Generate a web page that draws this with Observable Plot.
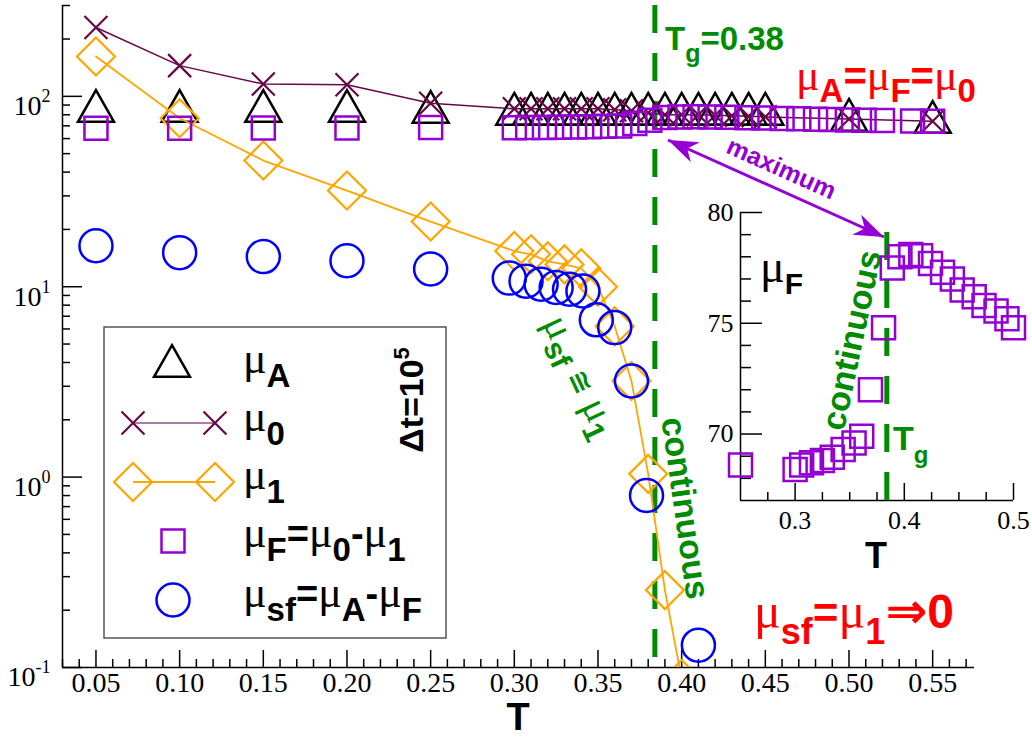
<!DOCTYPE html>
<html><head><meta charset="utf-8">
<script src="https://cdn.jsdelivr.net/npm/d3@7"></script>
<script src="https://cdn.jsdelivr.net/npm/@observablehq/plot@0.6"></script>
<style>
html,body{margin:0;padding:0;background:#fff;overflow:hidden}
#wrap{position:relative;width:1032px;height:739px}
#inset{position:absolute;left:680px;top:190px}
svg{overflow:visible}
</style></head><body><div id="wrap"><div id="main"></div><div id="inset"></div></div>
<script>
// ---------------- data ----------------
const T_A  = [0.05,0.10,0.15,0.20,0.25,0.30,0.31,0.32,0.33,0.34,0.35,0.36,0.37,0.38,0.39,0.40,0.41,0.42,0.43,0.44,0.45,0.50,0.55];
const muA  = [89,89,89,89,88,86,86,86,86,86,86,86,86,86,86,86,86,86,86,86,86,80,78];
const T_0  = [0.05,0.10,0.15,0.20,0.25,0.30,0.31,0.32,0.33,0.34,0.35,0.36,0.37,0.38,0.39,0.40,0.41,0.42,0.43,0.44,0.45,0.50,0.55];
const mu0  = [230,145,116,115,92,86,86,86,86,86,86,85,84,82,80,80,80,79.5,79,78.5,78,76,74];
const T_1  = [0.05,0.10,0.15,0.20,0.25,0.30,0.31,0.32,0.33,0.34,0.35,0.36,0.37,0.38,0.39,0.40];
const mu1  = [162,76.7,46,32,22,15.4,14.8,13.6,13.1,12.5,10.0,6.2,3.2,1.04,0.255,0.087];
const T_F  = [0.05,0.10,0.15,0.20,0.25,0.30,0.308,0.318,0.327,0.336,0.345,0.354,0.363,0.372,0.381,0.39,0.399,0.408,0.417,0.427,0.439,0.449,0.46,0.47,0.48,0.489,0.499,0.509,0.52,0.538,0.55];
const muF  = [68,68,68.2,68.2,68.6,68.4,68.6,68.7,68.8,68.95,69.3,69.6,69.9,72.0,74.8,77.5,78.0,78.1,78.0,77.7,77.3,77.0,76.5,76.2,75.8,75.5,75.2,74.8,74.6,74.3,74.0];
const T_sf = [0.05,0.10,0.15,0.20,0.25,0.297,0.307,0.316,0.325,0.333,0.341,0.349,0.36,0.37,0.379,0.41];
const musf = [16.4,15.1,14.4,13.7,12.4,11.1,10.7,10.3,9.9,9.7,9.5,6.7,6.1,3.2,0.80,0.131];
// inset: mu_F vs T
const T_in  = [0.25,0.30,0.306,0.315,0.325,0.334,0.344,0.354,0.361,0.369,0.381,0.389,0.396,0.406,0.415,0.424,0.435,0.444,0.453,0.464,0.473,0.484,0.494,0.50];
const muF_in= [68.6,68.4,68.6,68.7,68.8,68.95,69.3,69.6,69.9,72.0,74.8,77.5,78.0,78.1,78.05,77.7,77.3,77.0,76.5,76.2,75.8,75.55,75.2,74.8];
const Tg = 0.384;
// ticks
const xMajor = [0.05,0.10,0.15,0.20,0.25,0.30,0.35,0.40,0.45,0.50,0.55];
const yMajor = [0.1,1,10,100];
const inXMajor = [0.3,0.4,0.5];
const inYMajor = [70,75,80];

// ---------------- styles ----------------
const C = {A:"#000000", M0:"#670748", M1:"#FFA500", F:"#9400D3", SF:"#0000FF", G:"#008B00", R:"#FF0000"};
const rOf = s => Math.sqrt(s/Math.PI);
const symTri = {draw(c,s){const r=rOf(s),h=r*0.88;c.moveTo(0,-h);c.lineTo(r,h);c.lineTo(-r,h);c.closePath();}};
const symSq  = {draw(c,s){const r=rOf(s);c.moveTo(-r,-r);c.lineTo(r,-r);c.lineTo(r,r);c.lineTo(-r,r);c.closePath();}};
const symDia = {draw(c,s){const r=rOf(s);c.moveTo(0,-r);c.lineTo(r,0);c.lineTo(0,r);c.lineTo(-r,0);c.closePath();}};
const symX   = {draw(c,s){const r=rOf(s);c.moveTo(-r,-r);c.lineTo(r,r);c.moveTo(r,-r);c.lineTo(-r,r);}};
const symO   = {draw(c,s){const r=rOf(s);c.moveTo(r,0);c.arc(0,0,r,0,2*Math.PI);}};
const S = {
  A:{symbol:symTri,r:18,stroke:C.A,strokeWidth:2.5},
  M0:{symbol:symX,r:11.5,stroke:C.M0,strokeWidth:2.2},
  M1:{symbol:symDia,r:19,stroke:C.M1,strokeWidth:2.2},
  F:{symbol:symSq,r:11.5,stroke:C.F,strokeWidth:2.5},
  SF:{symbol:symO,r:16.5,stroke:C.SF,strokeWidth:2.5}
};
const rows = (X,Y) => X.map((t,i)=>({T:t,v:Y[i]}));
const serif = "Liberation Serif";

// ---------------- main chart ----------------
const xMinor = d3.range(3,58).map(d=>d/100).filter(d=>!xMajor.some(m=>Math.abs(m-d)<1e-9));
const yMinor = [];
for (const e of [0.1,1,10,100]) for (let k=2;k<=9;k++){const v=k*e; if(v<=300) yMinor.push(v);}

const main = Plot.plot({
  width:1032, height:739,
  marginLeft:62, marginRight:58, marginTop:5, marginBottom:72,
  x:{domain:[0.03,0.575]},
  y:{type:"log", domain:[0.1,300]},
  style:{fontFamily:serif, fontSize:"28px", color:"black", background:"white"},
  marks:[
    Plot.axisX(xMinor,{tickSize:-8, text:null, strokeWidth:1.5, label:null}),
    Plot.axisX(xMajor,{tickSize:-17, tickPadding:22, tickFormat:d=>d.toFixed(2), fontSize:28, strokeWidth:1.5, label:null}),
    Plot.axisY(yMinor,{tickSize:-8, text:null, strokeWidth:1.5, label:null}),
    Plot.axisY(yMajor,{tickSize:-20, tickPadding:32, tickFormat:d=>"E"+Math.round(Math.log10(d)), fontSize:28, strokeWidth:1.5, label:null}),
    Plot.ruleX([0.03],{stroke:"black",strokeWidth:1.5}),
    Plot.ruleY([0.1],{stroke:"black",strokeWidth:1.5}),
    Plot.ruleX([Tg],{stroke:C.G,strokeWidth:5,strokeDasharray:"28,20"}),
    Plot.dot(rows(T_A,muA),{x:"T",y:"v",...S.A,fill:"none"}),
    Plot.line(rows(T_0,mu0),{x:"T",y:"v",stroke:C.M0,strokeWidth:1.5}),
    Plot.dot(rows(T_0,mu0),{x:"T",y:"v",...S.M0,fill:"none"}),
    Plot.line(rows(T_1,mu1),{x:"T",y:"v",stroke:C.M1,strokeWidth:1.8,clip:true}),
    Plot.dot(rows(T_1,mu1),{x:"T",y:"v",...S.M1,fill:"none",clip:true}),
    Plot.dot(rows(T_F,muF),{x:"T",y:"v",...S.F,fill:"none"}),
    Plot.dot(rows(T_sf,musf),{x:"T",y:"v",...S.SF,fill:"none"})
  ]
});
document.getElementById("main").appendChild(main);

// ---------------- inset chart ----------------
const inXMinor = [0.275,0.325,0.35,0.375,0.425,0.45,0.475];
const inYMinor = [68,69,71,72,73,74,76,77,78,79];
const inset = Plot.plot({
  width:352, height:380,
  marginLeft:60, marginRight:19, marginTop:22, marginBottom:70,
  x:{domain:[0.25,0.5]},
  y:{domain:[67,80]},
  style:{fontFamily:serif, fontSize:"26px", color:"black", background:"transparent"},
  marks:[
    Plot.axisX(inXMinor,{tickSize:-8, text:null, strokeWidth:1.5, label:null}),
    Plot.axisX(inXMajor,{tickSize:-17, tickPadding:27, tickFormat:d=>d.toFixed(1), fontSize:26, strokeWidth:1.5, label:null}),
    Plot.axisY(inYMinor,{tickSize:-11, text:null, strokeWidth:1.5, label:null}),
    Plot.axisY(inYMajor,{tickSize:-22, tickPadding:29, tickFormat:d=>String(d), fontSize:26, strokeWidth:1.5, label:null}),
    Plot.ruleX([0.25],{stroke:"black",strokeWidth:1.5}),
    Plot.ruleY([67],{stroke:"black",strokeWidth:1.5}),
    Plot.ruleX([Tg],{y1:67,y2:79.5,stroke:C.G,strokeWidth:5,strokeDasharray:"28,20"}),
    Plot.dot(rows(T_in,muF_in),{x:"T",y:"v",...S.F,fill:"none"})
  ]
});
document.getElementById("inset").appendChild(inset);

// ---------------- superscript tick labels ----------------
d3.select(main).selectAll('g[aria-label="y-axis tick label"] text').each(function(){
  const c = this.textContent;
  if (!c || c[0] !== "E") { if (!c) d3.select(this).remove(); return; }
  const e = c.slice(1); const s = d3.select(this); s.text(null);
  s.append("tspan").attr("dy",10).text("10");
  s.append("tspan").attr("dy",-13).attr("font-size",18).text(e);
});

// ---------------- annotations ----------------
const ov = d3.select(main).append("g");
function rt(g,x,y,parts,{rotate=0,anchor="start",fill="black",dy=0}={}){
  const t = g.append("text").attr("transform",`translate(${x},${y}) rotate(${rotate})`).attr("text-anchor",anchor).attr("fill",fill);
  let cur = 0, first = true;
  for (const [s,kind,size,shift=0] of parts){
    const ts = t.append("tspan").text(s).attr("font-size",size);
    if (kind==="mu") ts.attr("font-family",serif);
    else if (kind==="sym") ts.attr("font-family","DejaVu Sans").attr("font-weight","bold");
    else ts.attr("font-family","Liberation Sans").attr("font-weight","bold");
    if (first) { ts.attr("dy", shift+dy); cur = shift; first=false; }
    else if (shift!==cur){ ts.attr("dy",shift-cur); cur=shift; }
  }
  return t;
}
// legend
ov.append("rect").attr("x",104).attr("y",327).attr("width",342).attr("height",311).attr("fill","white").attr("stroke","#555").attr("stroke-width",1.5);
const sym = (type,r) => d3.symbol(type, Math.PI*r*r)();
const put = (st,x,y) => ov.append("path").attr("d",sym(st.symbol,st.r)).attr("transform",`translate(${x},${y})`).attr("fill","none").attr("stroke",st.stroke).attr("stroke-width",st.strokeWidth);
put(S.A,172,361);
ov.append("line").attr("x1",133).attr("x2",215).attr("y1",423).attr("y2",423).attr("stroke",C.M0).attr("stroke-width",1.5).attr("opacity",0.7);
put(S.M0,133,423); put(S.M0,215,423);
ov.append("line").attr("x1",133).attr("x2",215).attr("y1",482).attr("y2",482).attr("stroke",C.M1).attr("stroke-width",1.8);
put(S.M1,133,482); put(S.M1,215,482);
put(S.F,173,541);
put(S.SF,173,600);
const MU=44, SB=33, EQ=38, SH=14;
rt(ov,243,373,[["μ","mu",MU],["A","b",SB,SH]]);
rt(ov,243,431,[["μ","mu",MU],["0","b",SB,SH]]);
rt(ov,243,489,[["μ","mu",MU],["1","b",SB,SH]]);
rt(ov,243,547,[["μ","mu",MU],["F","b",SB,SH],["=","b",EQ,0],["μ","mu",MU,0],["0","b",SB,SH],["-","b",EQ,0],["μ","mu",MU,0],["1","b",SB,SH]]);
rt(ov,243,607,[["μ","mu",MU],["sf","b",SB,SH],["=","b",EQ,0],["μ","mu",MU,0],["A","b",SB,SH],["-","b",EQ,0],["μ","mu",MU,0],["F","b",SB,SH]]);
// axis titles
rt(ov,518,730,[["T","b",38]],{anchor:"middle"});
rt(ov,876,568,[["T","b",36]],{anchor:"middle"});
// green labels
rt(ov,665,50,[["T","b",33],["g","b",25,12],["=0.38","b",33,0]],{fill:C.G});
rt(ov,686,508,[["continuous","b",34]],{rotate:82,anchor:"middle",fill:C.G,dy:12});
rt(ov,851,340,[["continuous","b",34]],{rotate:-78,anchor:"middle",fill:C.G,dy:12});
rt(ov,577,378,[["μ","mu",40],["sf","b",30,10],[" ≅ ","sym",28,0],["μ","mu",40,0],["1","b",30,10]],{rotate:65,anchor:"middle",fill:C.G,dy:8});
rt(ov,893,450,[["T","b",34],["g","b",24,13]],{fill:C.G});
// black labels
rt(ov,423,400,[["Δt=10","b",34],["5","b",22,-14]],{rotate:-90,anchor:"middle"});
rt(ov,760,282,[["μ","mu",46],["F","b",30,12]]);
// red labels
rt(ov,796,90,[["μ","mu",44],["A","b",33,12],["=","b",40,0],["μ","mu",44,0],["F","b",33,12],["=","b",40,0],["μ","mu",44,0],["0","b",33,12]],{fill:C.R});
rt(ov,754,628,[["μ","mu",50],["sf","b",36,16],["=","b",44,0],["μ","mu",50,0],["1","b",36,16],["⇒","sym",50,0],["0","b",48,0]],{fill:C.R});
// maximum arrow
const P1=[668,140], P2=[884,237];
function head(tip,from,L,W){
  const dx=tip[0]-from[0], dy=tip[1]-from[1], len=Math.hypot(dx,dy), ux=dx/len, uy=dy/len, px=-uy, py=ux;
  const b=[tip[0]-ux*L, tip[1]-uy*L], n=[tip[0]-ux*L*0.7, tip[1]-uy*L*0.7];
  ov.append("path").attr("d",`M${tip}L${b[0]+px*W},${b[1]+py*W}L${n}L${b[0]-px*W},${b[1]-py*W}Z`).attr("fill",C.F);
}
ov.append("line").attr("x1",P1[0]).attr("y1",P1[1]).attr("x2",P2[0]).attr("y2",P2[1]).attr("stroke",C.F).attr("stroke-width",3);
head(P1,P2,30,11); head(P2,P1,30,11);
rt(ov,778,176,[["maximum","b",25]],{rotate:24,anchor:"middle",fill:C.F});
</script></body></html>
